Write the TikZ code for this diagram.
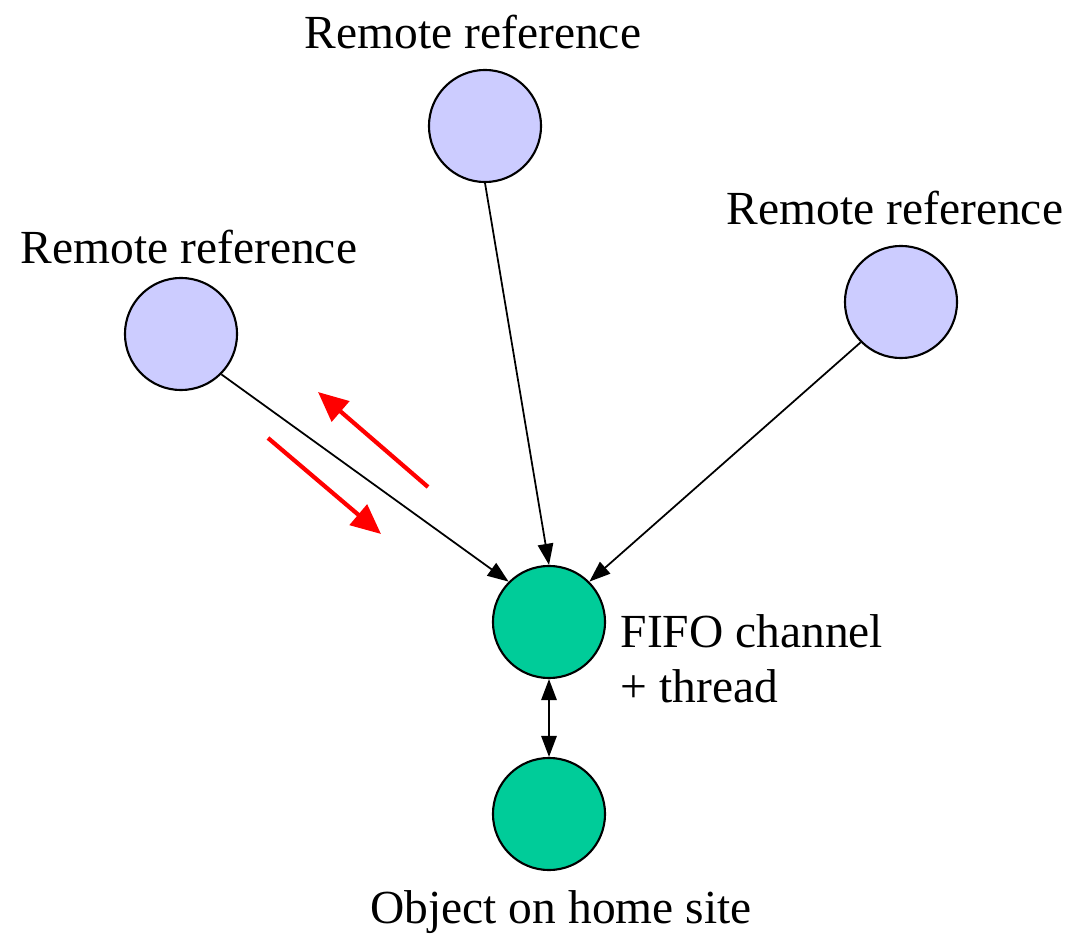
\documentclass[tikz,border=0pt]{standalone}
\usepackage{fontspec}
\setmainfont{Liberation Serif}
\usetikzlibrary{arrows.meta}
\definecolor{refblue}{HTML}{CCCCFF}
\definecolor{homegreen}{HTML}{00CC99}
\begin{document}
\begin{tikzpicture}[x=0.01cm,y=-0.01cm,
  site/.style={circle,draw=black,line width=0.6pt,minimum size=1.12cm,inner sep=0pt},
  remote/.style={site,fill=refblue},
  home/.style={site,fill=homegreen},
  lbl/.style={font=\fontsize{13.5pt}{15.6pt}\selectfont,inner sep=0pt},
  link/.style={line width=0.5pt,-{Triangle[length=6pt,width=4.4pt]}},
  flow/.style={red,line width=1.2pt,-{Triangle[length=8.5pt,width=7.5pt]}}]
\useasboundingbox (0,0) rectangle (1085,934);

% circles
\node[remote] (top)   at (485,126) {};
\node[remote] (left)  at (181,334) {};
\node[remote] (right) at (901,302) {};
\node[home]   (fifo)  at (549,622) {};
\node[home]   (obj)   at (549,814) {};

% labels
\node[lbl] (ltop)   at (473,32)  {Remote reference};
\node[lbl] (lleft)  at (189,247) {Remote reference};
\node[lbl] (lright) at (895,208) {Remote reference};
\node[lbl,anchor=west,align=left] (lfifo) at (620,659) {FIFO channel\\+ thread};
\node[lbl] (lobj)   at (561,912) {Object on home site};

% connectors
\draw[link] (left.south east) -- (fifo.north west);
\draw[link] (top.south) -- (fifo.north);
\draw[link] (right.south west) -- (fifo.north east);
\draw[link,{Triangle[length=6pt,width=4.4pt]}-{Triangle[length=6pt,width=4.4pt]}] (fifo.south) -- (obj.north);

% message directions
\coordinate (ua) at (428,487);
\coordinate (ub) at (318,392);
\coordinate (da) at (268,438);
\coordinate (db) at (381,534);
\draw[flow] (ua) -- (ub);
\draw[flow] (da) -- (db);
\end{tikzpicture}
\end{document}
